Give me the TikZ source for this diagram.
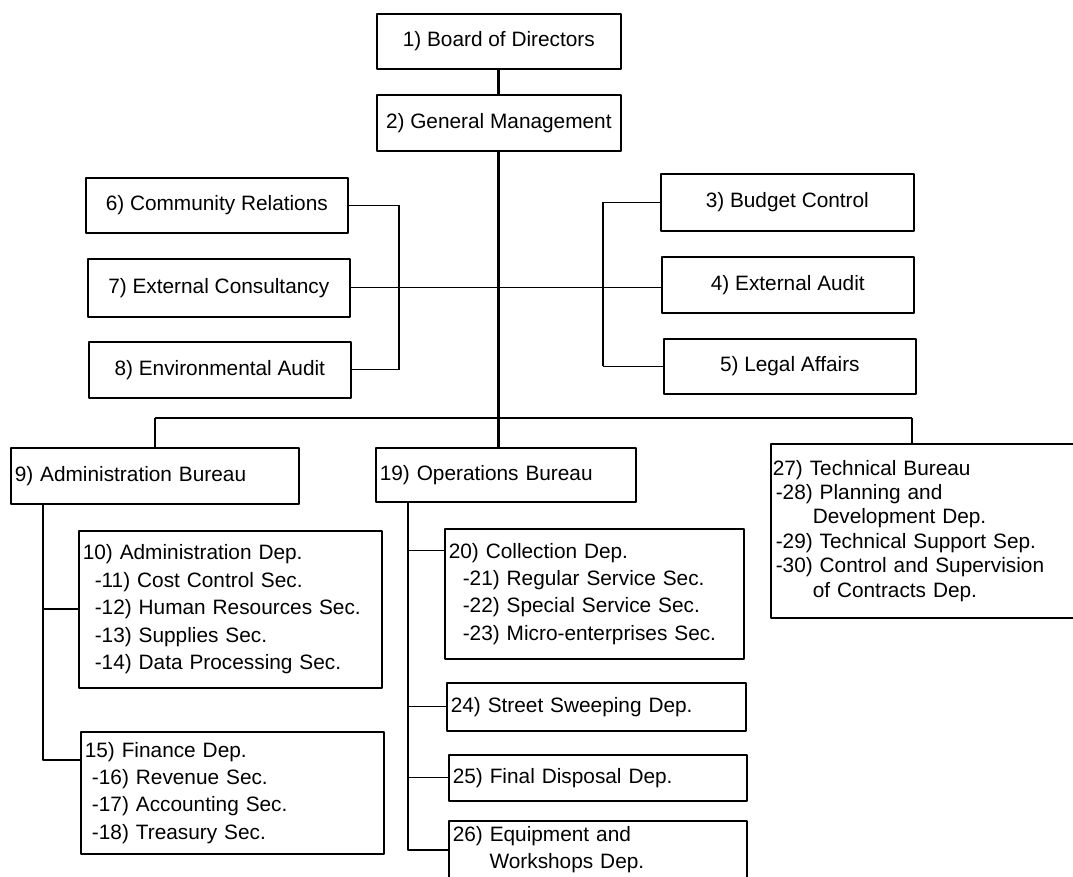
\documentclass[tikz,border=0pt]{standalone}
\usepackage{fontspec}
\setmainfont{Liberation Sans}

\begin{document}
\begin{tikzpicture}[x=0.025cm,y=-0.025cm,join=round]
    \tikzstyle{unit} = [draw,line width=1.1pt,anchor=north west,inner xsep=0.1cm,
                        inner ysep=0pt,font=\fontsize{14.8}{19.5}\selectfont]
    \tikzstyle{listunit} = [unit,align=left]
    \tikzstyle{trunk} = [line width=2.1pt]
    \tikzstyle{bracket} = [line width=1.4pt]
    \tikzstyle{branch} = [line width=0.7pt]
    \useasboundingbox (0,0) rectangle (1073,876);
    \clip (0,0) rectangle (1073,876);
    % top of the chart
    \node[unit,minimum width=6.1cm,minimum height=1.375cm] (b1) at (376,13)
        {1) Board of Directors};
    \node[unit,minimum width=6.1cm,minimum height=1.4cm] (b2) at (376,94)
        {2) General Management};
    % staff units
    \node[unit,minimum width=6.325cm,minimum height=1.425cm] (b3) at (660,173)
        {3) Budget Control};
    \node[unit,minimum width=6.3cm,minimum height=1.4cm] (b4) at (661,256)
        {4) External Audit};
    \node[unit,minimum width=6.3cm,minimum height=1.375cm] (b5) at (663,338)
        {5) Legal Affairs};
    \node[unit,minimum width=6.55cm,minimum height=1.375cm] (b6) at (85,177)
        {6) Community Relations};
    \node[unit,minimum width=6.55cm,minimum height=1.45cm] (b7) at (87,258)
        {7) External Consultancy};
    \node[unit,minimum width=6.55cm,minimum height=1.4cm] (b8) at (88,341)
        {8) Environmental Audit};
    % bureaus
    \node[listunit,text width=7.0cm,minimum height=1.4cm] (b9) at (10,447)
        {9) Administration Bureau};
    \node[listunit,text width=6.3cm,minimum height=1.35cm] (b19) at (375,447)
        {19) Operations Bureau};
    \node[listunit,text width=7.8cm,minimum height=4.35cm,inner xsep=0.05cm,
          font=\fontsize{14.8}{17.4}\selectfont] (b27) at (770,443)
        {27) Technical Bureau\\
         \hspace*{0.075cm}-28) Planning and\\
         \hspace*{1cm}Development Dep.\\
         \hspace*{0.075cm}-29) Technical Support Sep.\\
         \hspace*{0.075cm}-30) Control and Supervision\\
         \hspace*{1cm}of Contracts Dep.};
    % departments
    \node[listunit,text width=7.375cm,minimum height=3.925cm] (b10) at (78,530)
        {10) Administration Dep.\\
         \hspace*{0.3cm}-11) Cost Control Sec.\\
         \hspace*{0.3cm}-12) Human Resources Sec.\\
         \hspace*{0.3cm}-13) Supplies Sec.\\
         \hspace*{0.3cm}-14) Data Processing Sec.};
    \node[listunit,text width=7.375cm,minimum height=3.05cm] (b15) at (80,731)
        {15) Finance Dep.\\
         \hspace*{0.18cm}-16) Revenue Sec.\\
         \hspace*{0.18cm}-17) Accounting Sec.\\
         \hspace*{0.18cm}-18) Treasury Sec.};
    \node[listunit,text width=7.275cm,minimum height=3.25cm] (b20) at (444,528)
        {20) Collection Dep.\\
         \hspace*{0.35cm}-21) Regular Service Sec.\\
         \hspace*{0.35cm}-22) Special Service Sec.\\
         \hspace*{0.35cm}-23) Micro-enterprises Sec.};
    \node[listunit,text width=7.275cm,minimum height=1.2cm] (b24) at (446,682)
        {24) Street Sweeping Dep.};
    \node[listunit,text width=7.25cm,minimum height=1.15cm] (b25) at (448,754)
        {25) Final Disposal Dep.};
    \node[listunit,text width=7.25cm,minimum height=1.45cm] (b26) at (448,820)
        {26) Equipment and\\
         \hspace*{0.92cm}Workshops Dep.};
    % main line
    \draw[trunk](b1.south)--(b2.north);
    \draw[trunk](b2.south)--(b2.south |- b19.north);
    % staff brackets
    \coordinate (lbr) at (399,285);
    \coordinate (rbr) at (603,285);
    \draw[bracket](b6.east -| lbr)--(b8.east -| lbr);
    \draw[branch](b6.east)--(b6.east -| lbr);
    \draw[branch](b8.east)--(b8.east -| lbr);
    \draw[bracket](b3.west -| rbr)--(b5.west -| rbr);
    \draw[branch](b3.west)--(b3.west -| rbr);
    \draw[branch](b5.west)--(b5.west -| rbr);
    \draw[branch](b7.east)--(b7.east -| b4.west);
    % bus to the bureaus
    \coordinate (busR) at (912,418);
    \draw[line width=1pt](b9.north |- busR)--(busR);
    \draw[bracket](b9.north)--(b9.north |- busR);
    \draw[bracket](busR)--(busR |- b27.north);
    % administration departments
    \path (b9.south west) ++(33,0) coordinate (aspine);
    \path (b15.north west) ++(0,29) coordinate (b15lnk);
    \draw[bracket](aspine) |- (b15lnk);
    \draw[bracket](aspine |- b10.west)--(b10.west);
    % operations departments
    \path (b19.south west) ++(33,0) coordinate (ospine);
    \path (b20.north west) ++(0,22) coordinate (b20lnk);
    \draw[bracket](ospine) |- (b26.west);
    \draw[branch](ospine |- b20lnk)--(b20lnk);
    \draw[branch](ospine |- b24.west)--(b24.west);
    \draw[branch](ospine |- b25.west)--(b25.west);
\end{tikzpicture}
\end{document}
